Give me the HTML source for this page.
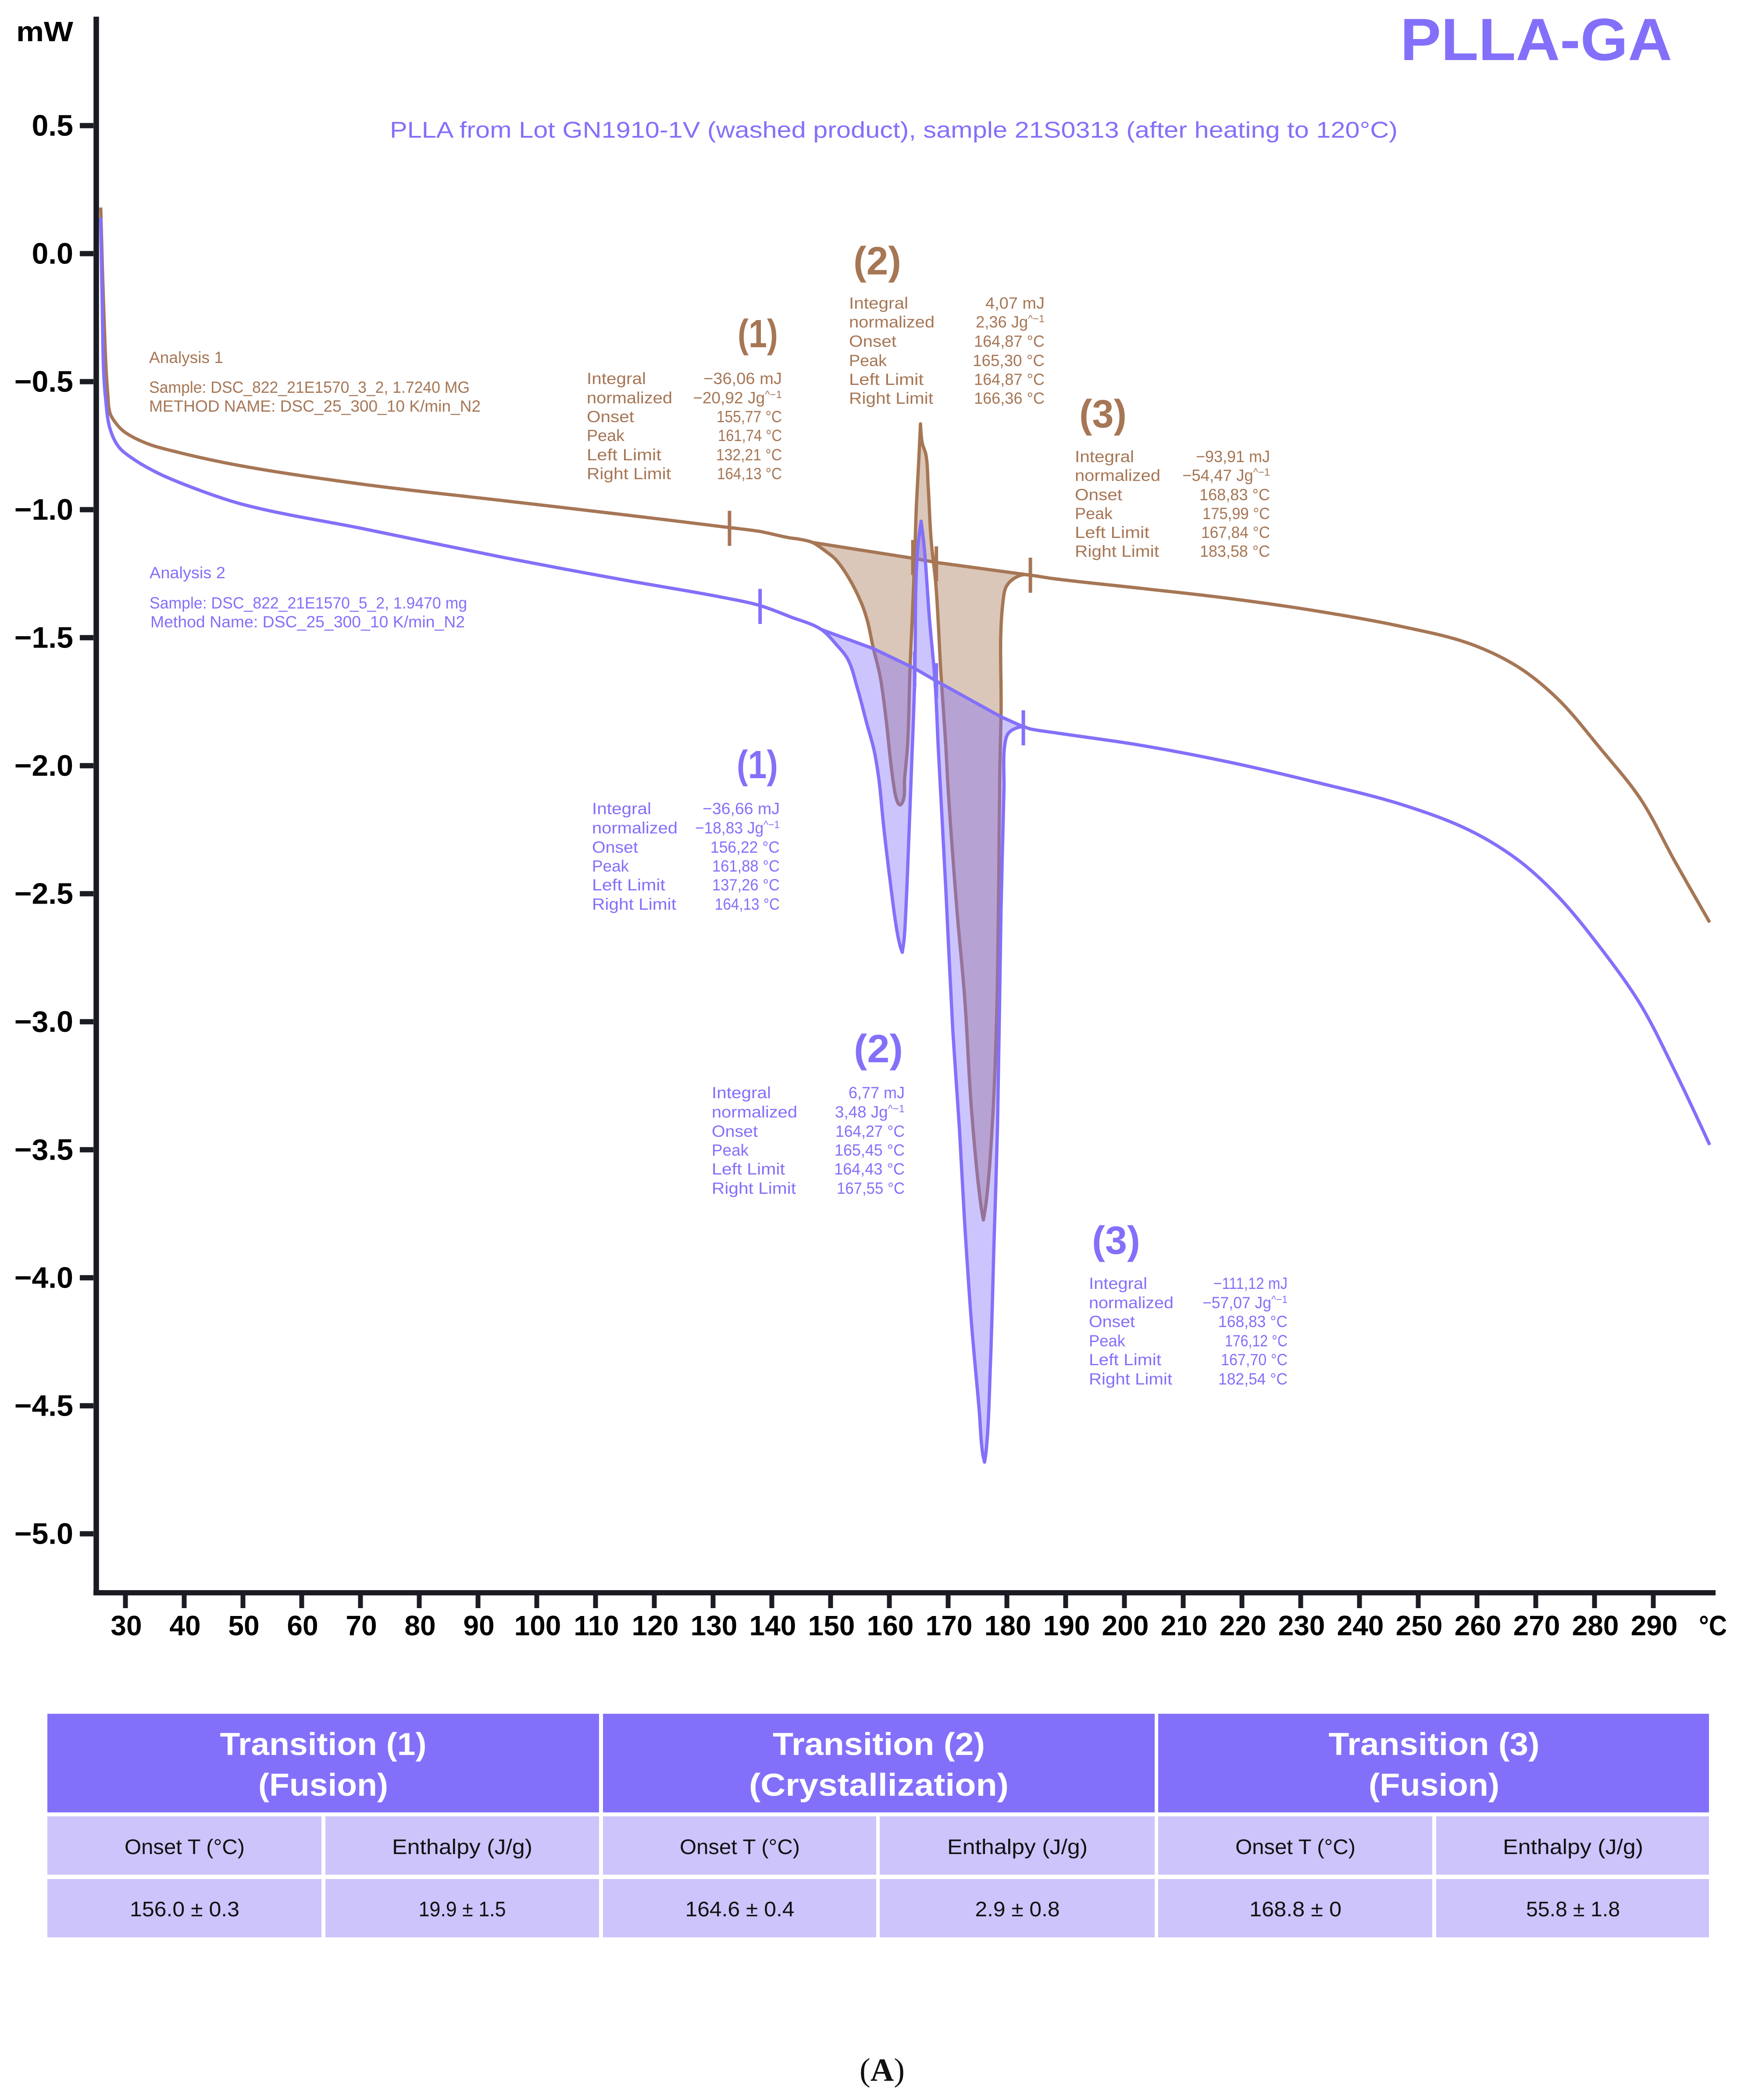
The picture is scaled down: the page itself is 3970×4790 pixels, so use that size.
<!DOCTYPE html>
<html lang="en">
<head>
<meta charset="utf-8">
<title>PLLA-GA DSC thermogram</title>
<style>
html,body{margin:0;padding:0;background:#fff;width:3970px;height:4790px;overflow:hidden}
svg{display:block}
text{font-family:"Liberation Sans",sans-serif}
.b text{fill:#A67655}
.p text{fill:#8370FA}
.n{font-size:90px;font-weight:700}
.a{font-size:37px}
.hd{font-size:72px;font-weight:700;fill:#fff;text-anchor:middle}
.td{font-size:48px;fill:#111;text-anchor:middle}
.th{fill:#8370FA}
.tc{fill:#CCC4FB}
.e{text-anchor:end}
</style>
</head>
<body>
<svg id="chart" xmlns="http://www.w3.org/2000/svg" width="3970" height="4790" viewBox="0 0 3970 4790">
<rect x="0" y="0" width="3970" height="4790" fill="#fff"/>
<g id="plot"></g>

<text x="37" y="94" font-size="64" font-weight="700" fill="#000" textLength="130" lengthAdjust="spacingAndGlyphs">mW</text>
<text x="3874" y="3730" font-size="64" font-weight="700" fill="#000" textLength="64" lengthAdjust="spacingAndGlyphs">°C</text>
<text x="3193" y="137" font-size="136" font-weight="700" fill="#8370FA" textLength="620" lengthAdjust="spacingAndGlyphs">PLLA-GA</text>
<text x="889" y="314" font-size="52" fill="#8370FA" textLength="2298" lengthAdjust="spacingAndGlyphs">PLLA from Lot GN1910-1V (washed product), sample 21S0313 (after heating to 120°C)</text>

<g class="b">
<text x="340" y="828" class="a" textLength="169" lengthAdjust="spacingAndGlyphs">Analysis 1</text>
<text x="340" y="896" class="a" textLength="731" lengthAdjust="spacingAndGlyphs">Sample: DSC_822_21E1570_3_2, 1.7240 MG</text>
<text x="340" y="939" class="a" textLength="756" lengthAdjust="spacingAndGlyphs">METHOD NAME: DSC_25_300_10 K/min_N2</text>
</g>
<g class="p">
<text x="341" y="1319" class="a" textLength="173" lengthAdjust="spacingAndGlyphs">Analysis 2</text>
<text x="341" y="1388" class="a" textLength="724" lengthAdjust="spacingAndGlyphs">Sample: DSC_822_21E1570_5_2, 1.9470 mg</text>
<text x="343" y="1431" class="a" textLength="717" lengthAdjust="spacingAndGlyphs">Method Name: DSC_25_300_10 K/min_N2</text>
</g>

<g class="b">
<text x="1682" y="792" class="n" textLength="92" lengthAdjust="spacingAndGlyphs">(1)</text>
<text x="1338" y="876" class="a" textLength="135" lengthAdjust="spacingAndGlyphs">Integral</text>
<text x="1338" y="920" class="a" textLength="195" lengthAdjust="spacingAndGlyphs">normalized</text>
<text x="1338" y="963" class="a" textLength="108" lengthAdjust="spacingAndGlyphs">Onset</text>
<text x="1338" y="1006" class="a" textLength="86" lengthAdjust="spacingAndGlyphs">Peak</text>
<text x="1338" y="1050" class="a" textLength="170" lengthAdjust="spacingAndGlyphs">Left Limit</text>
<text x="1338" y="1093" class="a" textLength="192" lengthAdjust="spacingAndGlyphs">Right Limit</text>
<text x="1783" y="876" class="a e" textLength="179" lengthAdjust="spacingAndGlyphs">−36,06 mJ</text>
<text x="1783" y="920" class="a e" textLength="203" lengthAdjust="spacingAndGlyphs">−20,92 Jg<tspan font-size="24" dy="-12">^−1</tspan></text>
<text x="1783" y="963" class="a e" textLength="149" lengthAdjust="spacingAndGlyphs">155,77 °C</text>
<text x="1783" y="1006" class="a e" textLength="146" lengthAdjust="spacingAndGlyphs">161,74 °C</text>
<text x="1783" y="1050" class="a e" textLength="150" lengthAdjust="spacingAndGlyphs">132,21 °C</text>
<text x="1783" y="1093" class="a e" textLength="148" lengthAdjust="spacingAndGlyphs">164,13 °C</text>
</g>

<g class="b">
<text x="1946" y="626" class="n" textLength="109" lengthAdjust="spacingAndGlyphs">(2)</text>
<text x="1936" y="704" class="a" textLength="135" lengthAdjust="spacingAndGlyphs">Integral</text>
<text x="1936" y="747" class="a" textLength="195" lengthAdjust="spacingAndGlyphs">normalized</text>
<text x="1936" y="791" class="a" textLength="108" lengthAdjust="spacingAndGlyphs">Onset</text>
<text x="1936" y="835" class="a" textLength="86" lengthAdjust="spacingAndGlyphs">Peak</text>
<text x="1936" y="878" class="a" textLength="170" lengthAdjust="spacingAndGlyphs">Left Limit</text>
<text x="1936" y="921" class="a" textLength="192" lengthAdjust="spacingAndGlyphs">Right Limit</text>
<text x="2382" y="704" class="a e" textLength="135" lengthAdjust="spacingAndGlyphs">4,07 mJ</text>
<text x="2382" y="747" class="a e" textLength="157" lengthAdjust="spacingAndGlyphs">2,36 Jg<tspan font-size="24" dy="-12">^−1</tspan></text>
<text x="2382" y="791" class="a e" textLength="161" lengthAdjust="spacingAndGlyphs">164,87 °C</text>
<text x="2382" y="835" class="a e" textLength="164" lengthAdjust="spacingAndGlyphs">165,30 °C</text>
<text x="2382" y="878" class="a e" textLength="161" lengthAdjust="spacingAndGlyphs">164,87 °C</text>
<text x="2382" y="921" class="a e" textLength="161" lengthAdjust="spacingAndGlyphs">166,36 °C</text>
</g>

<g class="b">
<text x="2461" y="975" class="n" textLength="108" lengthAdjust="spacingAndGlyphs">(3)</text>
<text x="2451" y="1054" class="a" textLength="135" lengthAdjust="spacingAndGlyphs">Integral</text>
<text x="2451" y="1097" class="a" textLength="195" lengthAdjust="spacingAndGlyphs">normalized</text>
<text x="2451" y="1141" class="a" textLength="108" lengthAdjust="spacingAndGlyphs">Onset</text>
<text x="2451" y="1184" class="a" textLength="86" lengthAdjust="spacingAndGlyphs">Peak</text>
<text x="2451" y="1227" class="a" textLength="170" lengthAdjust="spacingAndGlyphs">Left Limit</text>
<text x="2451" y="1270" class="a" textLength="192" lengthAdjust="spacingAndGlyphs">Right Limit</text>
<text x="2896" y="1054" class="a e" textLength="169" lengthAdjust="spacingAndGlyphs">−93,91 mJ</text>
<text x="2896" y="1097" class="a e" textLength="200" lengthAdjust="spacingAndGlyphs">−54,47 Jg<tspan font-size="24" dy="-12">^−1</tspan></text>
<text x="2896" y="1141" class="a e" textLength="161" lengthAdjust="spacingAndGlyphs">168,83 °C</text>
<text x="2896" y="1184" class="a e" textLength="154" lengthAdjust="spacingAndGlyphs">175,99 °C</text>
<text x="2896" y="1227" class="a e" textLength="157" lengthAdjust="spacingAndGlyphs">167,84 °C</text>
<text x="2896" y="1270" class="a e" textLength="160" lengthAdjust="spacingAndGlyphs">183,58 °C</text>
</g>

<g class="p">
<text x="1680" y="1775" class="n" textLength="94" lengthAdjust="spacingAndGlyphs">(1)</text>
<text x="1350" y="1857" class="a" textLength="135" lengthAdjust="spacingAndGlyphs">Integral</text>
<text x="1350" y="1901" class="a" textLength="195" lengthAdjust="spacingAndGlyphs">normalized</text>
<text x="1350" y="1945" class="a" textLength="105" lengthAdjust="spacingAndGlyphs">Onset</text>
<text x="1350" y="1988" class="a" textLength="84" lengthAdjust="spacingAndGlyphs">Peak</text>
<text x="1350" y="2031" class="a" textLength="167" lengthAdjust="spacingAndGlyphs">Left Limit</text>
<text x="1350" y="2075" class="a" textLength="192" lengthAdjust="spacingAndGlyphs">Right Limit</text>
<text x="1778" y="1857" class="a e" textLength="176" lengthAdjust="spacingAndGlyphs">−36,66 mJ</text>
<text x="1778" y="1901" class="a e" textLength="193" lengthAdjust="spacingAndGlyphs">−18,83 Jg<tspan font-size="24" dy="-12">^−1</tspan></text>
<text x="1778" y="1945" class="a e" textLength="158" lengthAdjust="spacingAndGlyphs">156,22 °C</text>
<text x="1778" y="1988" class="a e" textLength="154" lengthAdjust="spacingAndGlyphs">161,88 °C</text>
<text x="1778" y="2031" class="a e" textLength="154" lengthAdjust="spacingAndGlyphs">137,26 °C</text>
<text x="1778" y="2075" class="a e" textLength="148" lengthAdjust="spacingAndGlyphs">164,13 °C</text>
</g>

<g class="p">
<text x="1947" y="2423" class="n" textLength="112" lengthAdjust="spacingAndGlyphs">(2)</text>
<text x="1623" y="2505" class="a" textLength="135" lengthAdjust="spacingAndGlyphs">Integral</text>
<text x="1623" y="2549" class="a" textLength="195" lengthAdjust="spacingAndGlyphs">normalized</text>
<text x="1623" y="2593" class="a" textLength="105" lengthAdjust="spacingAndGlyphs">Onset</text>
<text x="1623" y="2636" class="a" textLength="84" lengthAdjust="spacingAndGlyphs">Peak</text>
<text x="1623" y="2679" class="a" textLength="167" lengthAdjust="spacingAndGlyphs">Left Limit</text>
<text x="1623" y="2723" class="a" textLength="192" lengthAdjust="spacingAndGlyphs">Right Limit</text>
<text x="2063" y="2505" class="a e" textLength="128" lengthAdjust="spacingAndGlyphs">6,77 mJ</text>
<text x="2063" y="2549" class="a e" textLength="159" lengthAdjust="spacingAndGlyphs">3,48 Jg<tspan font-size="24" dy="-12">^−1</tspan></text>
<text x="2063" y="2593" class="a e" textLength="158" lengthAdjust="spacingAndGlyphs">164,27 °C</text>
<text x="2063" y="2636" class="a e" textLength="160" lengthAdjust="spacingAndGlyphs">165,45 °C</text>
<text x="2063" y="2679" class="a e" textLength="161" lengthAdjust="spacingAndGlyphs">164,43 °C</text>
<text x="2063" y="2723" class="a e" textLength="155" lengthAdjust="spacingAndGlyphs">167,55 °C</text>
</g>

<g class="p">
<text x="2490" y="2860" class="n" textLength="110" lengthAdjust="spacingAndGlyphs">(3)</text>
<text x="2483" y="2940" class="a" textLength="133" lengthAdjust="spacingAndGlyphs">Integral</text>
<text x="2483" y="2984" class="a" textLength="193" lengthAdjust="spacingAndGlyphs">normalized</text>
<text x="2483" y="3027" class="a" textLength="105" lengthAdjust="spacingAndGlyphs">Onset</text>
<text x="2483" y="3071" class="a" textLength="83" lengthAdjust="spacingAndGlyphs">Peak</text>
<text x="2483" y="3114" class="a" textLength="165" lengthAdjust="spacingAndGlyphs">Left Limit</text>
<text x="2483" y="3158" class="a" textLength="190" lengthAdjust="spacingAndGlyphs">Right Limit</text>
<text x="2936" y="2940" class="a e" textLength="169" lengthAdjust="spacingAndGlyphs">−111,12 mJ</text>
<text x="2936" y="2984" class="a e" textLength="194" lengthAdjust="spacingAndGlyphs">−57,07 Jg<tspan font-size="24" dy="-12">^−1</tspan></text>
<text x="2936" y="3027" class="a e" textLength="158" lengthAdjust="spacingAndGlyphs">168,83 °C</text>
<text x="2936" y="3071" class="a e" textLength="143" lengthAdjust="spacingAndGlyphs">176,12 °C</text>
<text x="2936" y="3114" class="a e" textLength="152" lengthAdjust="spacingAndGlyphs">167,70 °C</text>
<text x="2936" y="3158" class="a e" textLength="158" lengthAdjust="spacingAndGlyphs">182,54 °C</text>
</g>

<g>
<rect class="th" x="108" y="3909" width="1258" height="225"/>
<rect class="th" x="1375" y="3909" width="1258" height="225"/>
<rect class="th" x="2641" y="3909" width="1256" height="225"/>
<rect class="tc" x="108" y="4143" width="625" height="133"/>
<rect class="tc" x="742" y="4143" width="624" height="133"/>
<rect class="tc" x="1375" y="4143" width="623" height="133"/>
<rect class="tc" x="2006" y="4143" width="627" height="133"/>
<rect class="tc" x="2641" y="4143" width="625" height="133"/>
<rect class="tc" x="3275" y="4143" width="622" height="133"/>
<rect class="tc" x="108" y="4286" width="625" height="133"/>
<rect class="tc" x="742" y="4286" width="624" height="133"/>
<rect class="tc" x="1375" y="4286" width="623" height="133"/>
<rect class="tc" x="2006" y="4286" width="627" height="133"/>
<rect class="tc" x="2641" y="4286" width="625" height="133"/>
<rect class="tc" x="3275" y="4286" width="622" height="133"/>
<text class="hd" x="737" y="4003" textLength="471" lengthAdjust="spacingAndGlyphs">Transition (1)</text>
<text class="hd" x="737" y="4096" textLength="296" lengthAdjust="spacingAndGlyphs">(Fusion)</text>
<text class="hd" x="2004" y="4003" textLength="484" lengthAdjust="spacingAndGlyphs">Transition (2)</text>
<text class="hd" x="2004" y="4096" textLength="592" lengthAdjust="spacingAndGlyphs">(Crystallization)</text>
<text class="hd" x="3270" y="4003" textLength="481" lengthAdjust="spacingAndGlyphs">Transition (3)</text>
<text class="hd" x="3270" y="4096" textLength="298" lengthAdjust="spacingAndGlyphs">(Fusion)</text>
<text class="td" x="421" y="4229" textLength="274" lengthAdjust="spacingAndGlyphs">Onset T (°C)</text>
<text class="td" x="1054" y="4229" textLength="320" lengthAdjust="spacingAndGlyphs">Enthalpy (J/g)</text>
<text class="td" x="1687" y="4229" textLength="274" lengthAdjust="spacingAndGlyphs">Onset T (°C)</text>
<text class="td" x="2320" y="4229" textLength="320" lengthAdjust="spacingAndGlyphs">Enthalpy (J/g)</text>
<text class="td" x="2954" y="4229" textLength="274" lengthAdjust="spacingAndGlyphs">Onset T (°C)</text>
<text class="td" x="3587" y="4229" textLength="320" lengthAdjust="spacingAndGlyphs">Enthalpy (J/g)</text>
<text class="td" x="421" y="4371" textLength="250" lengthAdjust="spacingAndGlyphs">156.0 ± 0.3</text>
<text class="td" x="1054" y="4371" textLength="199" lengthAdjust="spacingAndGlyphs">19.9 ± 1.5</text>
<text class="td" x="1687" y="4371" textLength="249" lengthAdjust="spacingAndGlyphs">164.6 ± 0.4</text>
<text class="td" x="2320" y="4371" textLength="193" lengthAdjust="spacingAndGlyphs">2.9 ± 0.8</text>
<text class="td" x="2954" y="4371" textLength="210" lengthAdjust="spacingAndGlyphs">168.8 ± 0</text>
<text class="td" x="3587" y="4371" textLength="214" lengthAdjust="spacingAndGlyphs">55.8 ± 1.8</text>
</g>

<text x="1960" y="4746" font-size="74" fill="#111" style="font-family:'Liberation Serif',serif" textLength="103" lengthAdjust="spacingAndGlyphs">(<tspan font-weight="700">A</tspan>)</text>
</svg>

<script>
/* axis values */
const xTicks = [30,40,50,60,70,80,90,100,110,120,130,140,150,160,170,180,190,200,210,220,230,240,250,260,270,280,290];
const yTicks = [0.5,0,-0.5,-1,-1.5,-2,-2.5,-3,-3.5,-4,-4.5,-5];
const yTickLabels = ['0.5','0.0','−0.5','−1.0','−1.5','−2.0','−2.5','−3.0','−3.5','−4.0','−4.5','−5.0'];

/* analysis 1 (brown) curve: temperature in °C, heat flow in mW */
const brownTemps = [25.8,26.3,27.0,27.4,28.3,29.7,33.5,38.8,49.5,70.8,94.4,114.9,132.8,137.9,143,144.6,146.9,148.9,150.8,153,155.3,156.3,157.2,158.4,159.5,160.1,160.7,161.2,161.6,161.9,162.3,162.6,163.1,163.5,163.9,164.3,164.6,165,165.3,165.6,166.2,166.6,167.1,167.9,168.8,169.6,170,171.6,172.8,174,175.6,176,176.5,177.6,178.3,178.6,178.8,179,179.4,179.9,181,182.8,184,187.8,202.7,217.6,232.5,247.5,258.7,266.9,273.6,281,287.8,293.7,299.6];
const brownPower = [0.18,-0.21,-0.55,-0.625,-0.66,-0.694,-0.74,-0.775,-0.828,-0.902,-0.965,-1.02,-1.07,-1.085,-1.11,-1.115,-1.128,-1.158,-1.193,-1.263,-1.368,-1.437,-1.534,-1.648,-1.83,-1.96,-2.07,-2.13,-2.15,-2.153,-2.14,-2.05,-1.92,-1.63,-1.42,-1.19,-0.985,-0.81,-0.665,-0.74,-0.783,-0.905,-1.115,-1.29,-1.648,-1.92,-2.09,-2.59,-2.9,-3.35,-3.72,-3.774,-3.7,-3.37,-2.94,-2.48,-2.01,-1.806,-1.347,-1.3,-1.272,-1.254,-1.256,-1.269,-1.307,-1.346,-1.395,-1.458,-1.523,-1.613,-1.736,-1.933,-2.129,-2.375,-2.612];
const brownBaseTemps = [146.9,164.1,167.9,184];
const brownBasePower = [-1.128,-1.19,-1.206,-1.256];
const brownPeakStart = 146.9;
const brownPeakEnd = 184;
const brownLimitTemps = [132.8,164,168,184];
const brownLimitPower = [-1.073,-1.187,-1.212,-1.256];

/* analysis 2 (purple) curve */
const blueTemps = [25.8,26.1,26.3,26.6,27.4,28.9,31.2,35.7,42.6,49.9,70.8,94.4,114.9,131.7,137.9,143.1,148.4,151.1,152.9,154.6,156.1,157.4,158.2,159,160.2,161.3,161.9,162.2,162.5,162.8,163.4,163.8,164.3,164.8,165.4,165.9,166.8,167.8,168.3,169.6,170.8,171.9,172.8,174,175.3,175.9,176.2,176.5,177.2,177.8,178.4,179,179.5,179.7,180.2,181.2,182.8,183.9,187.8,202.7,217.6,232.5,247.5,258.7,266.9,273.6,281,287.8,293.7,299.6];
const bluePower = [0.14,-0.265,-0.465,-0.56,-0.686,-0.756,-0.8,-0.859,-0.924,-0.979,-1.076,-1.187,-1.275,-1.343,-1.374,-1.418,-1.468,-1.53,-1.583,-1.7,-1.83,-1.94,-2.05,-2.23,-2.463,-2.646,-2.71,-2.729,-2.68,-2.568,-2.23,-1.99,-1.68,-1.158,-1.045,-1.14,-1.42,-1.68,-1.92,-2.477,-3.035,-3.41,-3.78,-4.185,-4.52,-4.69,-4.72,-4.67,-4.335,-3.87,-3.41,-2.57,-2.09,-1.91,-1.875,-1.857,-1.848,-1.856,-1.87,-1.92,-1.985,-2.064,-2.154,-2.252,-2.367,-2.506,-2.711,-2.932,-3.194,-3.481];
const blueBaseTemps = [148.4,157.4,164.3,167.9,179,182.8];
const blueBasePower = [-1.468,-1.544,-1.62,-1.668,-1.809,-1.848];
const bluePeakStart = 148.4;
const bluePeakEnd = 182.8;
const blueLimitTemps = [138,164.3,168,182.8];
const blueLimitPower = [-1.378,-1.623,-1.668,-1.852];

const xScale = function (t) { return 286 + 13.4 * (t - 30); };
const yScale = function (v) { return 578.5 - 584 * v; };

const SVGNS = 'http://www.w3.org/2000/svg';
const plot = document.getElementById('plot');
const AXIS = '#1B1C23';
const BROWN = '#A67655';
const PURPLE = '#8370FA';

function make(tag, attrs, parent) {
  const el = document.createElementNS(SVGNS, tag);
  Object.keys(attrs).forEach(function (k) { el.setAttribute(k, attrs[k]); });
  (parent || plot).appendChild(el);
  return el;
}
function pathFrom(ts, vs) {
  return ts.map(function (t, i) {
    return (i ? 'L' : 'M') + xScale(t).toFixed(1) + ' ' + yScale(vs[i]).toFixed(1);
  }).join(' ');
}
/* Smooth path through the data points; sharp peaks stay as corners. */
function smoothFrom(ts, vs) {
  const p = ts.map(function (t, i) { return [xScale(t), yScale(vs[i])]; });
  const tan = p.map(function (q, i) {
    if (i === 0 || i === p.length - 1) return null;
    const ax = q[0] - p[i - 1][0], ay = q[1] - p[i - 1][1];
    const bx = p[i + 1][0] - q[0], by = p[i + 1][1] - q[1];
    const la = Math.hypot(ax, ay) || 1, lb = Math.hypot(bx, by) || 1;
    if ((ax * bx + ay * by) / (la * lb) < 0.6) return null;
    const dx = ax / la + bx / lb, dy = ay / la + by / lb;
    const l = Math.hypot(dx, dy) || 1;
    return [dx / l, dy / l];
  });
  let d = 'M' + p[0][0].toFixed(1) + ' ' + p[0][1].toFixed(1);
  for (let i = 0; i < p.length - 1; i++) {
    const len = Math.hypot(p[i + 1][0] - p[i][0], p[i + 1][1] - p[i][1]) * 0.33;
    const c1 = tan[i] ? [p[i][0] + tan[i][0] * len, p[i][1] + tan[i][1] * len] : p[i];
    const c2 = tan[i + 1] ? [p[i + 1][0] - tan[i + 1][0] * len, p[i + 1][1] - tan[i + 1][1] * len] : p[i + 1];
    d += ' C' + c1[0].toFixed(1) + ' ' + c1[1].toFixed(1) + ' ' + c2[0].toFixed(1) + ' ' + c2[1].toFixed(1) + ' ' + p[i + 1][0].toFixed(1) + ' ' + p[i + 1][1].toFixed(1);
  }
  return d;
}
function drawSeries(key, color, ts, vs, bts, bvs, start, end, lts, lvs, markW) {
  const idx = [];
  ts.forEach(function (t, i) { if (t >= start && t <= end) idx.push(i); });
  const its = idx.map(function (i) { return ts[i]; });
  const ivs = idx.map(function (i) { return vs[i]; });
  const back = bts.slice().reverse().map(function (t, i) {
    return 'L' + xScale(t).toFixed(1) + ' ' + yScale(bvs[bvs.length - 1 - i]).toFixed(1);
  }).join(' ');
  const fill = make('path', { d: smoothFrom(its, ivs) + ' ' + back + ' Z', fill: color, 'fill-opacity': 0.41, 'fill-rule': 'nonzero', stroke: 'none' });
  
  
  const base = make('path', { d: pathFrom(bts, bvs), fill: 'none', stroke: color, 'stroke-width': 7.5, 'stroke-linejoin': 'round' });
  
  
  const line = make('path', { d: smoothFrom(ts, vs), fill: 'none', stroke: color, 'stroke-width': 7.5, 'stroke-linejoin': 'round' });
  
  
  lts.forEach(function (t, i) {
    const m = make('line', { x1: xScale(t), x2: xScale(t), y1: yScale(lvs[i]) - 40, y2: yScale(lvs[i]) + 40, stroke: color, 'stroke-width': markW });
    
    
  });
}

drawSeries('analysis-1', BROWN, brownTemps, brownPower, brownBaseTemps, brownBasePower, brownPeakStart, brownPeakEnd, brownLimitTemps, brownLimitPower, 8);
drawSeries('analysis-2', PURPLE, blueTemps, bluePower, blueBaseTemps, blueBasePower, bluePeakStart, bluePeakEnd, blueLimitTemps, blueLimitPower, 8);

const yAxis = make('line', { x1: 219.5, x2: 219.5, y1: 38, y2: 3639, stroke: AXIS, 'stroke-width': 12.5 });


const xAxis = make('line', { x1: 213, x2: 3912, y1: 3633, y2: 3633, stroke: AXIS, 'stroke-width': 12 });



yTicks.forEach(function (v, i) {
  const tick = make('line', { x1: 182, x2: 213, y1: yScale(v), y2: yScale(v), stroke: AXIS, 'stroke-width': 12 });
  
  
  const label = make('text', { x: 167, y: yScale(v) + 23, 'font-size': 68, 'font-weight': 700, fill: '#000', 'text-anchor': 'end' });
  
  
  label.textContent = yTickLabels[i];
});
xTicks.forEach(function (t) {
  const tick = make('line', { x1: xScale(t), x2: xScale(t), y1: 3639, y2: 3668, stroke: AXIS, 'stroke-width': 11 });
  
  
  const label = make('text', { x: xScale(t) + 2, y: 3730, 'font-size': 64, 'font-weight': 700, fill: '#000', 'text-anchor': 'middle' });
  
  
  label.textContent = String(t);
});
</script>
</body>
</html>
